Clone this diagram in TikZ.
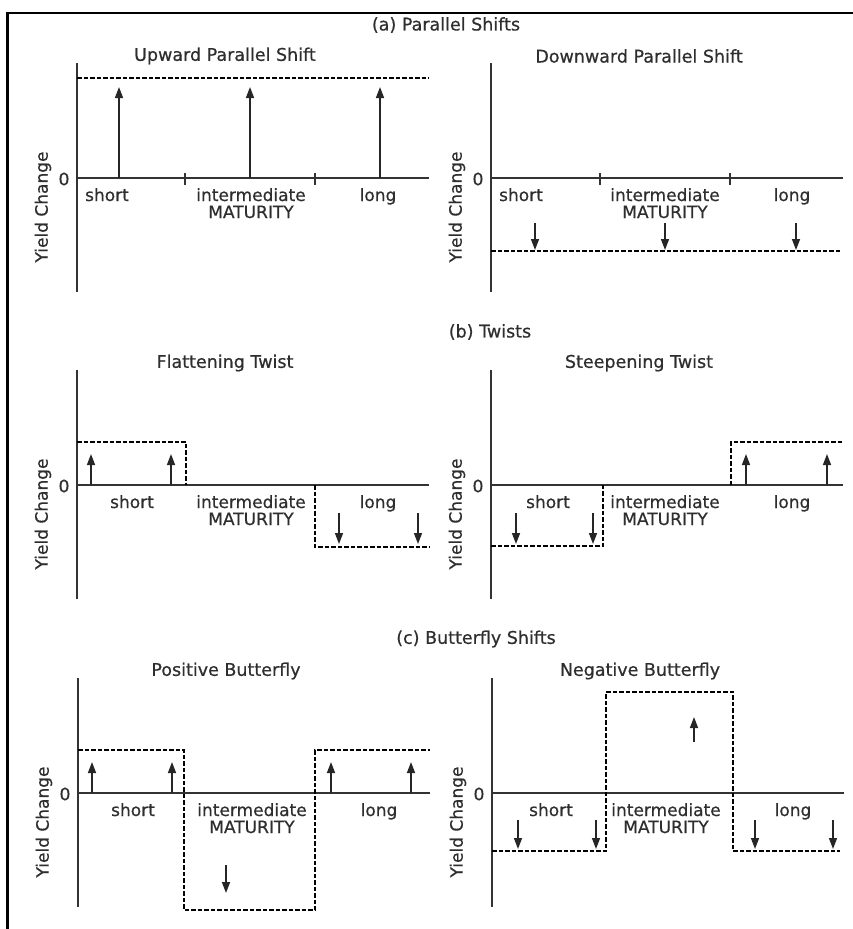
\documentclass[tikz,border=0pt]{standalone}
\usepackage{fontspec}
\setmainfont{DejaVu Sans}[FakeBold=0.6]
\usetikzlibrary{arrows.meta}
\definecolor{txt}{HTML}{2E2E2E}
\definecolor{axc}{HTML}{333333}
\tikzset{
  axisline/.style={draw=axc,line width=2.2pt},
  dashline/.style={draw=black,line width=1.7pt,dash pattern=on 4.5pt off 2pt},
  shiftarrow/.style={draw=black!85,line width=1.5pt,-{Triangle[length=11pt,width=8pt]}},
  lbl/.style={text=txt,inner sep=0pt,font=\fontsize{17}{19}\selectfont},
  ttl/.style={text=txt,inner sep=0pt,font=\fontsize{17.5}{19}\selectfont},
  tickmark/.style={draw=axc,line width=1.8pt},
  framel/.style={draw=black,line width=2.4pt}
}
\newcommand\mypanel[2]{%
  \draw[axisline] (0,-115) -- (0,114);
  \draw[axisline] (0,0) -- (352,0);
  \node[ttl] (title) at (148,-122) {#1};
  \node[lbl] (zero) at (-13,1) {0};
  \node[lbl,rotate=90] (ylab) at (-34,29) {Yield Change};
  \node[lbl,anchor=base] (short) at (#2,23) {short};
  \node[lbl,anchor=base] (inter) at (174,23) {intermediate};
  \node[lbl,anchor=base] (mat) at (174,40) {MATURITY};
  \node[lbl,anchor=base] (long) at (301,23) {long};
}
\begin{document}
\begin{tikzpicture}[x=1pt,y=-1pt]
\useasboundingbox (0,0) rectangle (853,929);
\draw[framel] (7.5,929) -- (7.5,13) -- (853,13);

% section titles
\node[ttl] (ta) at (446,25) {(a) Parallel Shifts};
\node[ttl] (tb) at (490,332) {(b) Twists};
\node[ttl] (tc) at (476,639) {(c) Butterfly Shifts};

% ---------- (a) left: upward parallel shift
\begin{scope}[shift={(77,178)},name prefix=al-]
  \mypanel{Upward Parallel Shift}{30}
  \draw[tickmark] (108,-5) -- (108,7);
  \draw[tickmark] (238,-5) -- (238,7);
  \draw[dashline] (0,-100) -- (352,-100);
  \foreach \x in {42,173,303} \draw[shiftarrow] (\x,0) -- (\x,-91);
\end{scope}

% ---------- (a) right: downward parallel shift
\begin{scope}[shift={(491,178)},name prefix=ar-]
  \mypanel{Downward Parallel Shift}{30}
  \draw[tickmark] (109,-5) -- (109,7);
  \draw[tickmark] (239,-5) -- (239,7);
  \draw[dashline] (0,73) -- (351,73);
  \foreach \x in {44,174,305} \draw[shiftarrow] (\x,45) -- (\x,72);
\end{scope}

% ---------- (b) left: flattening twist
\begin{scope}[shift={(77,485)},name prefix=bl-]
  \mypanel{Flattening Twist}{55}
  \draw[dashline] (0,-43) -- (109,-43) -- (109,0);
  \draw[dashline] (238,0) -- (238,62) -- (352,62);
  \foreach \x in {14,94} \draw[shiftarrow] (\x,0) -- (\x,-31);
  \foreach \x in {262,341} \draw[shiftarrow] (\x,28) -- (\x,59);
\end{scope}

% ---------- (b) right: steepening twist
\begin{scope}[shift={(491,485)},name prefix=br-]
  \mypanel{Steepening Twist}{57}
  \draw[dashline] (0,61) -- (112,61) -- (112,0);
  \draw[dashline] (240,0) -- (240,-43) -- (351,-43);
  \foreach \x in {25,102} \draw[shiftarrow] (\x,28) -- (\x,59);
  \foreach \x in {255,336} \draw[shiftarrow] (\x,0) -- (\x,-31);
\end{scope}

% ---------- (c) left: positive butterfly
\begin{scope}[shift={(78,793)},name prefix=cl-]
  \mypanel{Positive Butterfly}{55}
  \draw[dashline] (0,-43) -- (106,-43) -- (106,117) -- (237,117) -- (237,-43) -- (352,-43);
  \foreach \x in {14,94,253,333} \draw[shiftarrow] (\x,0) -- (\x,-31);
  \draw[shiftarrow] (148,72) -- (148,100);
\end{scope}

% ---------- (c) right: negative butterfly
\begin{scope}[shift={(492,793)},name prefix=cr-]
  \mypanel{Negative Butterfly}{59}
  \draw[dashline] (0,58) -- (114,58) -- (114,-101) -- (241,-101) -- (241,58) -- (348,58);
  \foreach \x in {26,104,263,341} \draw[shiftarrow] (\x,27) -- (\x,56);
  \draw[shiftarrow] (202,-51) -- (202,-76);
\end{scope}
\end{tikzpicture}
\end{document}
